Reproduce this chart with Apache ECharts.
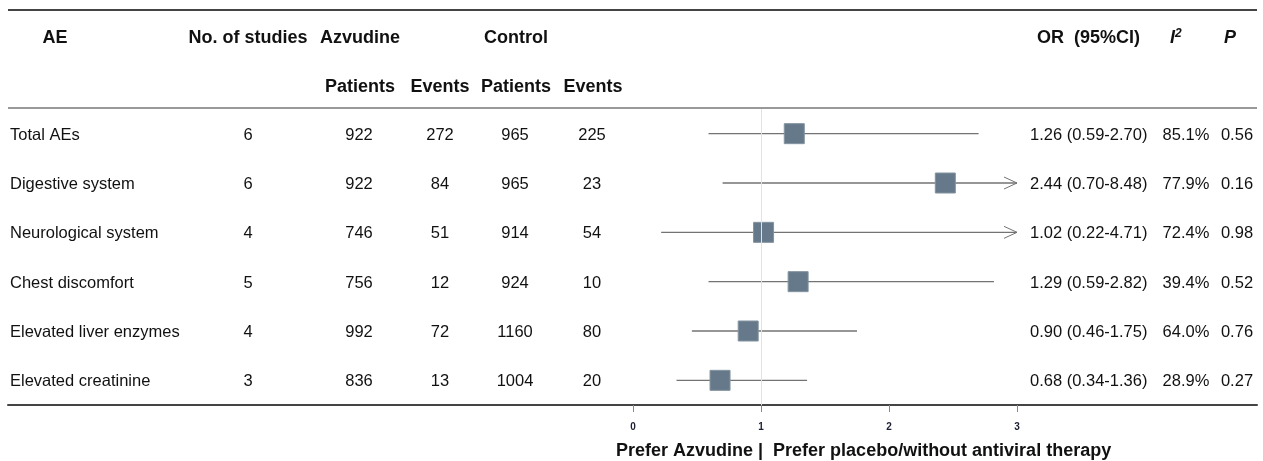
<!DOCTYPE html>
<html>
<head>
<meta charset="utf-8">
<title>Azvudine adverse events forest plot</title>
<script src="https://cdn.jsdelivr.net/npm/echarts@6/dist/echarts.min.js"></script>
<style>
  html, body { margin: 0; padding: 0; background: #fff; }
  #forest { width: 1263px; height: 461px; }
</style>
</head>
<body>
<div id="forest"></div>
<script>
// rows of the table
var categories = ['Total AEs', 'Digestive system', 'Neurological system', 'Chest discomfort', 'Elevated liver enzymes', 'Elevated creatinine'];
var studies = [6, 6, 4, 5, 4, 3];
var azvPatients = [922, 922, 746, 756, 992, 836];
var azvEvents = [272, 84, 51, 12, 72, 13];
var ctlPatients = [965, 965, 914, 924, 1160, 1004];
var ctlEvents = [225, 23, 54, 10, 80, 20];
var orValues = [1.26, 2.44, 1.02, 1.29, 0.90, 0.68];
var ciLow = [0.59, 0.70, 0.22, 0.59, 0.46, 0.34];
var ciHigh = [2.70, 8.48, 4.71, 2.82, 1.75, 1.36];
var i2Values = ['85.1%', '77.9%', '72.4%', '39.4%', '64.0%', '28.9%'];
var pValues = ['0.56', '0.16', '0.98', '0.52', '0.76', '0.27'];
var tickValues = [0, 1, 2, 3];

var FONT = '"Liberation Sans", Arial, sans-serif';
var plotMax = 3;          // CIs beyond this are cut and get an arrow
var pxPerUnit = 128;      // 0 sits at x=633, 3 at x=1017
var zeroX = 633;
var gridLeft = 8, gridRight = 6;

var axisMin = -(zeroX - gridLeft) / pxPerUnit;
var axisMax = (1263 - gridRight - zeroX) / pxPerUnit;

// column layout of the table (x in px)
var columns = [
    { x: 10, align: 'left', get: function (i) { return categories[i]; } },
    { x: 248, align: 'center', get: function (i) { return String(studies[i]); } },
    { x: 359, align: 'center', get: function (i) { return String(azvPatients[i]); } },
    { x: 440, align: 'center', get: function (i) { return String(azvEvents[i]); } },
    { x: 515, align: 'center', get: function (i) { return String(ctlPatients[i]); } },
    { x: 592, align: 'center', get: function (i) { return String(ctlEvents[i]); } },
    { x: 1030, align: 'left', get: function (i) {
        return orValues[i].toFixed(2) + ' (' + ciLow[i].toFixed(2) + '-' + ciHigh[i].toFixed(2) + ')';
    } },
    { x: 1186, align: 'center', get: function (i) { return i2Values[i]; } },
    { x: 1237, align: 'center', get: function (i) { return pValues[i]; } }
];

function headText(x, y, text, align) {
    return {
        type: 'text', x: x, y: y, silent: true,
        style: { text: text, font: 'bold 18px ' + FONT, fill: '#111', align: align || 'center', verticalAlign: 'middle' }
    };
}

function hLine(y, color) {
    return {
        type: 'line', silent: true,
        shape: { x1: 8, y1: y, x2: 1257, y2: y },
        style: { stroke: color, lineWidth: 2 }
    };
}

var rowIdx = categories.map(function (c, i) { return i; });
var forestData = rowIdx.map(function (i) { return [orValues[i], i, ciLow[i], ciHigh[i]]; });

var opts = {
    animation: false,
    grid: { left: gridLeft, right: gridRight, top: 109, bottom: 56 },
    xAxis: {
        type: 'value',
        min: axisMin,
        max: axisMax,
        splitLine: { show: false },
        axisLine: { show: true, lineStyle: { color: '#444', width: 2 } },
        axisTick: { show: true, customValues: tickValues, length: 7, lineStyle: { color: '#888' } },
        axisLabel: {
            customValues: tickValues, margin: 17,
            fontSize: 10, fontWeight: 'bold', color: '#1c1f33', fontFamily: FONT
        }
    },
    yAxis: {
        type: 'category',
        data: categories,
        inverse: true,
        show: false
    },
    graphic: [
        hLine(10, '#444'),
        hLine(108, '#999'),
        headText(55, 38, 'AE'),
        headText(248, 38, 'No. of studies'),
        headText(360, 38, 'Azvudine'),
        headText(516, 38, 'Control'),
        headText(1037, 38, 'OR  (95%CI)', 'left'),
        {
            type: 'text', x: 1170, y: 38, silent: true,
            style: {
                text: '{i|I}{s|2}', align: 'left', verticalAlign: 'middle',
                rich: {
                    i: { font: 'italic bold 18px ' + FONT, fill: '#111' },
                    s: { font: 'italic bold 12px ' + FONT, fill: '#111', verticalAlign: 'top', padding: [0, 0, 9, 0] }
                }
            }
        },
        { type: 'text', x: 1230, y: 38, silent: true,
          style: { text: 'P', font: 'italic bold 18px ' + FONT, fill: '#111', align: 'center', verticalAlign: 'middle' } },
        headText(360, 87, 'Patients'),
        headText(440, 87, 'Events'),
        headText(516, 87, 'Patients'),
        headText(593, 87, 'Events'),
        headText(616, 451, 'Prefer Azvudine |  Prefer placebo/without antiviral therapy', 'left')
    ],
    series: [
        {
            name: 'forest',
            type: 'custom',
            data: forestData,
            markLine: {
                silent: true,
                symbol: 'none',
                label: { show: false },
                lineStyle: { color: '#e2e2e2', width: 1, type: 'solid' },
                data: [{ xAxis: 1 }]
            },
            renderItem: function (params, api) {
                var row = api.value(1);
                var mid = api.coord([api.value(0), row]);
                var hi = api.value(3);
                var left = api.coord([api.value(2), row])[0];
                var right = api.coord([Math.min(hi, plotMax), row])[0];
                var y = mid[1];
                var size = 20;
                var children = [
                    {
                        type: 'line',
                        shape: { x1: left, y1: y, x2: right, y2: y },
                        style: { stroke: '#737373', lineWidth: 1.3 }
                    }
                ];
                if (hi > plotMax) {
                    children.push({
                        type: 'polyline',
                        shape: { points: [[right - 13, y - 6], [right, y], [right - 13, y + 6]] },
                        style: { stroke: '#737373', lineWidth: 1, fill: null }
                    });
                }
                children.push({
                    type: 'rect',
                    shape: { x: mid[0] - size / 2, y: y - size / 2, width: size, height: size },
                    style: { fill: '#66798a', stroke: '#8393a0', lineWidth: 1 }
                });
                return { type: 'group', children: children };
            }
        },
        {
            name: 'table',
            type: 'custom',
            data: rowIdx.map(function (i) { return [0, i]; }),
            silent: true,
            renderItem: function (params, api) {
                var i = api.value(1);
                var y = api.coord([0, i])[1] + 1.5;
                return {
                    type: 'group',
                    children: columns.map(function (col) {
                        return {
                            type: 'text',
                            x: col.x, y: y,
                            style: {
                                text: col.get(i), font: '16.5px ' + FONT, fill: '#111',
                                align: col.align, verticalAlign: 'middle'
                            }
                        };
                    })
                };
            }
        }
    ]
};

echarts.init(document.getElementById('forest')).setOption(opts);
</script>
</body>
</html>
